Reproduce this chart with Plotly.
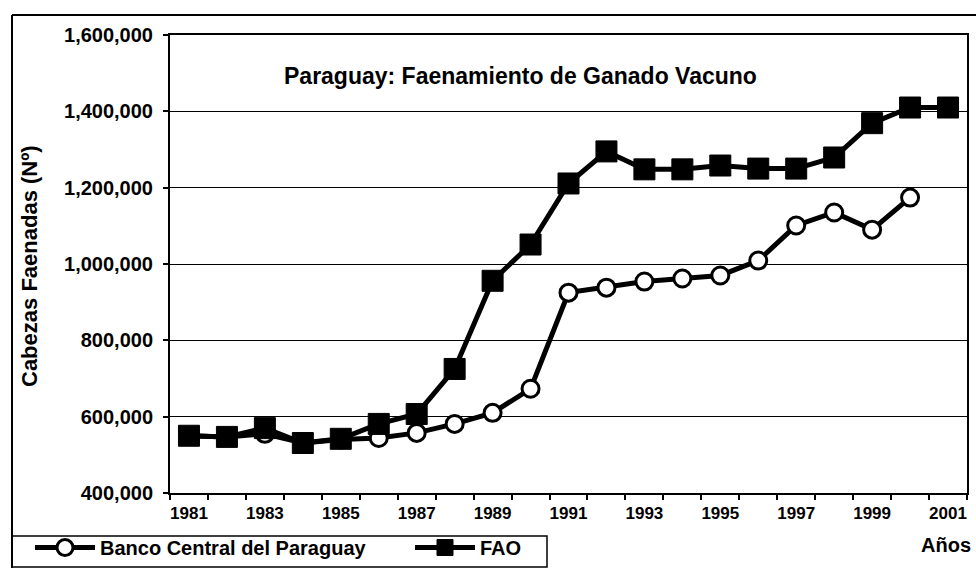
import plotly.graph_objects as go

# Años (eje de categorías) y cabezas faenadas por fuente
years = list(range(1981, 2002))
banco_central = [550000, 547000, 555000, 531000, 540000, 544000, 557500, 581000,
                 610000, 673000, 925000, 938000, 954000, 962000, 970000, 1009000,
                 1101000, 1135000, 1090000, 1174000, None]
fao = [550000, 547000, 570000, 531000, 542000, 581000, 607000, 725000,
       956000, 1051000, 1211000, 1295000, 1248000, 1248000, 1258000, 1250000,
       1250000, 1279000, 1369000, 1410000, 1410000]
tick_years = list(range(1981, 2002, 2))
tick_labels = [str(y) for y in tick_years]

FONT = "Liberation Sans, Arial, sans-serif"
W, H = 976, 569
ML, MR, MT, MB = 170, 9, 35, 76
PW, PH = W - ML - MR, H - MT - MB


def px_x(x):
    return (x - ML) / PW


def px_y(y):
    return (H - MB - y) / PH


fig = go.Figure()
fig.add_trace(go.Scatter(
    x=years, y=banco_central, name="Banco Central del Paraguay",
    mode="lines+markers",
    line=dict(color="black", width=5),
    marker=dict(symbol="circle", size=17, color="white",
                line=dict(color="black", width=3)),
))
fig.add_trace(go.Scatter(
    x=years, y=fao, name="FAO",
    mode="lines+markers",
    line=dict(color="black", width=5),
    marker=dict(symbol="square", size=21, color="black",
                line=dict(color="black", width=1)),
))

fig.update_layout(
    width=W, height=H,
    margin=dict(l=ML, r=MR, t=MT, b=MB, pad=0),
    paper_bgcolor="white", plot_bgcolor="white",
    font=dict(family=FONT, color="black"),
    showlegend=True,
    legend=dict(
        orientation="h",
        xref="container", yref="container",
        x=30 / W, xanchor="left",
        y=(H - 567) / H, yanchor="bottom",
        borderwidth=0, bgcolor="rgba(0,0,0,0)",
        font=dict(family=FONT, size=20, color="black", weight="bold"),
        entrywidth=305, itemwidth=60,
    ),
    xaxis=dict(
        range=[1980.5, 2001.5],
        tickmode="array", tickvals=tick_years, ticktext=tick_labels,
        ticks="outside", ticklen=4, tickcolor="rgba(0,0,0,0)",
        tickfont=dict(family=FONT, size=17, color="black", weight="bold"),
        minor=dict(tickmode="array",
                   tickvals=[1980.5 + i for i in range(22)],
                   ticks="outside", ticklen=5, tickwidth=1.5,
                   tickcolor="black", showgrid=False),
        showline=True, linecolor="black", linewidth=2, mirror=True,
        showgrid=False, zeroline=False, automargin=False,
    ),
    yaxis=dict(
        range=[400000, 1600000], dtick=200000, tick0=400000,
        tickformat=",d",
        ticks="outside", ticklen=5, tickwidth=1.5, tickcolor="black",
        ticklabelstandoff=6,
        tickfont=dict(family=FONT, size=20, color="black", weight="bold"),
        showline=True, linecolor="black", linewidth=2, mirror=True,
        showgrid=True, gridcolor="black", gridwidth=1.2,
        zeroline=False, automargin=False,
    ),
    annotations=[
        dict(text="Paraguay: Faenamiento de Ganado Vacuno",
             xref="paper", yref="paper", x=px_x(520), y=px_y(76),
             xanchor="center", yanchor="middle", showarrow=False,
             font=dict(family=FONT, size=23, color="black", weight="bold")),
        dict(text="Cabezas Faenadas (Nº)",
             xref="paper", yref="paper", x=px_x(29), y=px_y(266),
             xanchor="center", yanchor="middle", showarrow=False,
             textangle=-90,
             font=dict(family=FONT, size=22, color="black", weight="bold")),
        dict(text="Años",
             xref="paper", yref="paper", x=px_x(946), y=px_y(545),
             xanchor="center", yanchor="middle", showarrow=False,
             font=dict(family=FONT, size=20, color="black", weight="bold")),
    ],
    shapes=[
        # marco exterior del gráfico
        dict(type="line", xref="paper", yref="paper",
             x0=px_x(12), x1=px_x(980), y0=px_y(15), y1=px_y(15),
             line=dict(color="black", width=2)),
        dict(type="line", xref="paper", yref="paper",
             x0=px_x(12), x1=px_x(12), y0=px_y(15), y1=px_y(568),
             line=dict(color="black", width=2)),
        # recuadro de la leyenda
        dict(type="rect", xref="paper", yref="paper",
             x0=px_x(12), x1=px_x(547), y0=px_y(536), y1=px_y(567),
             line=dict(color="black", width=1.5)),
    ],
)

fig.write_html("out.html")
